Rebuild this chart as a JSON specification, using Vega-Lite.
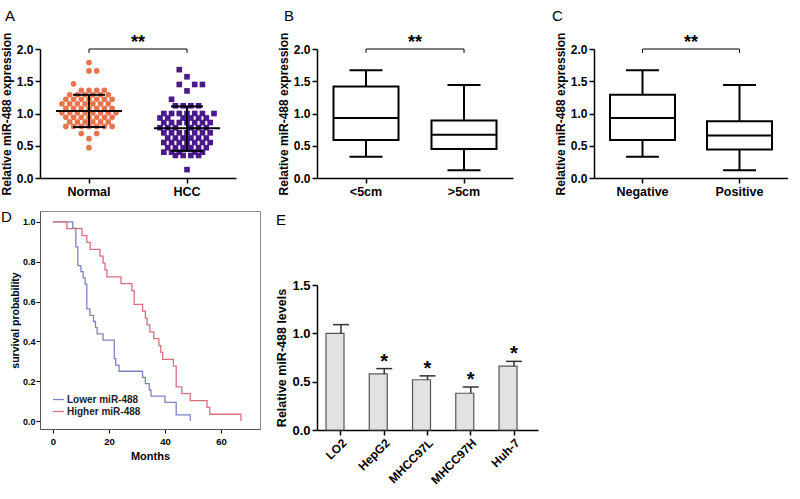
{
"$schema": "https://vega.github.io/schema/vega-lite/v6.json",
"padding": {"left": 0, "top": 9, "right": 0, "bottom": 0},
"background": "white",
"config": {
  "font": "Liberation Sans",
  "view": {"stroke": null},
  "axis": {"grid": false, "labelOverlap": false, "domainColor": "#000", "tickColor": "#000", "labelColor": "#000", "titleColor": "#000", "labelFont": "Liberation Sans", "titleFont": "Liberation Sans"},
  "title": {"font": "Liberation Sans", "fontWeight": "normal", "fontSize": 15, "anchor": "start", "frame": "group", "color": "#000"}
},
"datasets": {
  "ptsA": [
    {"group":"Normal","value":1.79,"col":0},{"group":"Normal","value":1.66,"col":0},{"group":"Normal","value":1.66,"col":2},{"group":"Normal","value":1.46,"col":-4},
    {"group":"Normal","value":1.36,"col":-2},{"group":"Normal","value":1.36,"col":0},{"group":"Normal","value":1.36,"col":2},{"group":"Normal","value":1.36,"col":4},
    {"group":"Normal","value":1.29,"col":-5},{"group":"Normal","value":1.29,"col":-3},{"group":"Normal","value":1.29,"col":-1},{"group":"Normal","value":1.29,"col":1},{"group":"Normal","value":1.29,"col":3},{"group":"Normal","value":1.29,"col":5},
    {"group":"Normal","value":1.22,"col":-6},{"group":"Normal","value":1.22,"col":-4},{"group":"Normal","value":1.22,"col":-2},{"group":"Normal","value":1.22,"col":0},{"group":"Normal","value":1.22,"col":2},{"group":"Normal","value":1.22,"col":4},{"group":"Normal","value":1.22,"col":6},
    {"group":"Normal","value":1.15,"col":-7},{"group":"Normal","value":1.15,"col":-5},{"group":"Normal","value":1.15,"col":-3},{"group":"Normal","value":1.15,"col":-1},{"group":"Normal","value":1.15,"col":1},{"group":"Normal","value":1.15,"col":3},{"group":"Normal","value":1.15,"col":5},
    {"group":"Normal","value":1.08,"col":-6},{"group":"Normal","value":1.08,"col":-4},{"group":"Normal","value":1.08,"col":-2},{"group":"Normal","value":1.08,"col":0},{"group":"Normal","value":1.08,"col":2},{"group":"Normal","value":1.08,"col":4},{"group":"Normal","value":1.08,"col":6},
    {"group":"Normal","value":1.01,"col":-7},{"group":"Normal","value":1.01,"col":-5},{"group":"Normal","value":1.01,"col":-3},{"group":"Normal","value":1.01,"col":-1},{"group":"Normal","value":1.01,"col":1},{"group":"Normal","value":1.01,"col":3},{"group":"Normal","value":1.01,"col":5},{"group":"Normal","value":1.01,"col":7},
    {"group":"Normal","value":0.94,"col":-6},{"group":"Normal","value":0.94,"col":-4},{"group":"Normal","value":0.94,"col":-2},{"group":"Normal","value":0.94,"col":0},{"group":"Normal","value":0.94,"col":2},{"group":"Normal","value":0.94,"col":4},{"group":"Normal","value":0.94,"col":6},
    {"group":"Normal","value":0.87,"col":-5},{"group":"Normal","value":0.87,"col":-3},{"group":"Normal","value":0.87,"col":-1},{"group":"Normal","value":0.87,"col":1},{"group":"Normal","value":0.87,"col":3},{"group":"Normal","value":0.87,"col":5},
    {"group":"Normal","value":0.80,"col":-6},{"group":"Normal","value":0.80,"col":-4},{"group":"Normal","value":0.80,"col":-2},{"group":"Normal","value":0.80,"col":0},{"group":"Normal","value":0.80,"col":2},{"group":"Normal","value":0.80,"col":4},{"group":"Normal","value":0.80,"col":6},
    {"group":"Normal","value":0.69,"col":-2},{"group":"Normal","value":0.69,"col":2},{"group":"Normal","value":0.61,"col":0},{"group":"Normal","value":0.47,"col":0},
    {"group":"HCC","value":1.68,"col":-2},{"group":"HCC","value":1.57,"col":0},{"group":"HCC","value":1.45,"col":-2},{"group":"HCC","value":1.45,"col":2},{"group":"HCC","value":1.45,"col":4},{"group":"HCC","value":1.35,"col":0},{"group":"HCC","value":1.22,"col":-4},
    {"group":"HCC","value":1.12,"col":-3},{"group":"HCC","value":1.12,"col":-1},{"group":"HCC","value":1.12,"col":1},{"group":"HCC","value":1.12,"col":3},
    {"group":"HCC","value":1.0,"col":-6},{"group":"HCC","value":1.0,"col":-4},{"group":"HCC","value":1.0,"col":-2},{"group":"HCC","value":1.0,"col":0},{"group":"HCC","value":1.0,"col":2},{"group":"HCC","value":1.0,"col":4},{"group":"HCC","value":1.0,"col":7},
    {"group":"HCC","value":0.93,"col":-7},{"group":"HCC","value":0.93,"col":-5},{"group":"HCC","value":0.93,"col":-1},{"group":"HCC","value":0.93,"col":1},{"group":"HCC","value":0.93,"col":3},{"group":"HCC","value":0.93,"col":5},
    {"group":"HCC","value":0.86,"col":-6},{"group":"HCC","value":0.86,"col":-4},{"group":"HCC","value":0.86,"col":-2},{"group":"HCC","value":0.86,"col":0},{"group":"HCC","value":0.86,"col":2},{"group":"HCC","value":0.86,"col":4},{"group":"HCC","value":0.86,"col":6},
    {"group":"HCC","value":0.78,"col":-7},{"group":"HCC","value":0.78,"col":-5},{"group":"HCC","value":0.78,"col":-3},{"group":"HCC","value":0.78,"col":1},{"group":"HCC","value":0.78,"col":3},{"group":"HCC","value":0.78,"col":5},
    {"group":"HCC","value":0.70,"col":-6},{"group":"HCC","value":0.70,"col":-4},{"group":"HCC","value":0.70,"col":-2},{"group":"HCC","value":0.70,"col":0},{"group":"HCC","value":0.70,"col":2},{"group":"HCC","value":0.70,"col":4},{"group":"HCC","value":0.70,"col":6},
    {"group":"HCC","value":0.62,"col":-5},{"group":"HCC","value":0.62,"col":-3},{"group":"HCC","value":0.62,"col":-1},{"group":"HCC","value":0.62,"col":1},{"group":"HCC","value":0.62,"col":3},{"group":"HCC","value":0.62,"col":5},
    {"group":"HCC","value":0.55,"col":-6},{"group":"HCC","value":0.55,"col":-4},{"group":"HCC","value":0.55,"col":-2},{"group":"HCC","value":0.55,"col":0},{"group":"HCC","value":0.55,"col":2},{"group":"HCC","value":0.55,"col":4},{"group":"HCC","value":0.55,"col":6},
    {"group":"HCC","value":0.47,"col":-5},{"group":"HCC","value":0.47,"col":-3},{"group":"HCC","value":0.47,"col":-1},{"group":"HCC","value":0.47,"col":1},{"group":"HCC","value":0.47,"col":3},{"group":"HCC","value":0.47,"col":5},
    {"group":"HCC","value":0.40,"col":-6},{"group":"HCC","value":0.40,"col":-4},{"group":"HCC","value":0.40,"col":-2},{"group":"HCC","value":0.40,"col":2},{"group":"HCC","value":0.40,"col":4},
    {"group":"HCC","value":0.35,"col":-3},{"group":"HCC","value":0.35,"col":-1},{"group":"HCC","value":0.35,"col":1},{"group":"HCC","value":0.35,"col":3},
    {"group":"HCC","value":0.13,"col":0}
  ],
  "sumA": [
    {"group":"Normal","mean":1.04,"lo":0.79,"hi":1.29},
    {"group":"HCC","mean":0.77,"lo":0.42,"hi":1.11}
  ],
  "sigA": [{"a":"Normal","b":"HCC","y":2.0,"ylow":1.94,"label":"**"}],
  "boxB": [
    {"g":"<5cm","min":0.33,"q1":0.59,"med":0.93,"q3":1.42,"max":1.67},
    {"g":">5cm","min":0.12,"q1":0.45,"med":0.67,"q3":0.89,"max":1.44}
  ],
  "sigB": [{"a":"<5cm","b":">5cm","y":2.0,"ylow":1.94,"label":"**"}],
  "boxC": [
    {"g":"Negative","min":0.33,"q1":0.59,"med":0.93,"q3":1.29,"max":1.67},
    {"g":"Positive","min":0.12,"q1":0.44,"med":0.66,"q3":0.88,"max":1.44}
  ],
  "sigC": [{"a":"Negative","b":"Positive","y":2.0,"ylow":1.94,"label":"**"}],
  "km": [
    {"grp":"Lower miR-488","t":0,"s":1.0},{"grp":"Lower miR-488","t":7.1,"s":0.969},{"grp":"Lower miR-488","t":8.2,"s":0.875},{"grp":"Lower miR-488","t":8.9,"s":0.781},{"grp":"Lower miR-488","t":10.0,"s":0.75},{"grp":"Lower miR-488","t":10.8,"s":0.719},{"grp":"Lower miR-488","t":11.5,"s":0.688},{"grp":"Lower miR-488","t":12.1,"s":0.563},{"grp":"Lower miR-488","t":13.2,"s":0.531},{"grp":"Lower miR-488","t":14.5,"s":0.5},{"grp":"Lower miR-488","t":15.2,"s":0.469},{"grp":"Lower miR-488","t":15.8,"s":0.438},{"grp":"Lower miR-488","t":17.9,"s":0.406},{"grp":"Lower miR-488","t":21.9,"s":0.313},{"grp":"Lower miR-488","t":22.4,"s":0.281},{"grp":"Lower miR-488","t":23.6,"s":0.25},{"grp":"Lower miR-488","t":32.0,"s":0.219},{"grp":"Lower miR-488","t":33.0,"s":0.188},{"grp":"Lower miR-488","t":34.4,"s":0.156},{"grp":"Lower miR-488","t":35.0,"s":0.125},{"grp":"Lower miR-488","t":40.0,"s":0.094},{"grp":"Lower miR-488","t":44.0,"s":0.031},{"grp":"Lower miR-488","t":49.0,"s":0.0},
    {"grp":"Higher miR-488","t":0,"s":1.0},{"grp":"Higher miR-488","t":5.0,"s":0.966},{"grp":"Higher miR-488","t":10.4,"s":0.931},{"grp":"Higher miR-488","t":12.1,"s":0.897},{"grp":"Higher miR-488","t":13.3,"s":0.862},{"grp":"Higher miR-488","t":16.8,"s":0.828},{"grp":"Higher miR-488","t":17.9,"s":0.793},{"grp":"Higher miR-488","t":18.6,"s":0.759},{"grp":"Higher miR-488","t":19.3,"s":0.724},{"grp":"Higher miR-488","t":24.3,"s":0.69},{"grp":"Higher miR-488","t":28.2,"s":0.655},{"grp":"Higher miR-488","t":29.0,"s":0.586},{"grp":"Higher miR-488","t":32.0,"s":0.552},{"grp":"Higher miR-488","t":33.0,"s":0.517},{"grp":"Higher miR-488","t":33.6,"s":0.483},{"grp":"Higher miR-488","t":34.6,"s":0.448},{"grp":"Higher miR-488","t":36.0,"s":0.414},{"grp":"Higher miR-488","t":37.8,"s":0.379},{"grp":"Higher miR-488","t":38.5,"s":0.345},{"grp":"Higher miR-488","t":39.2,"s":0.31},{"grp":"Higher miR-488","t":43.0,"s":0.276},{"grp":"Higher miR-488","t":44.0,"s":0.172},{"grp":"Higher miR-488","t":46.0,"s":0.138},{"grp":"Higher miR-488","t":49.0,"s":0.103},{"grp":"Higher miR-488","t":55.0,"s":0.069},{"grp":"Higher miR-488","t":56.0,"s":0.034},{"grp":"Higher miR-488","t":67.1,"s":0.0}
  ],
  "cells": [
    {"cell":"LO2","value":1.0,"upper":1.09,"sig":""},
    {"cell":"HepG2","value":0.58,"upper":0.635,"sig":"*"},
    {"cell":"MHCC97L","value":0.52,"upper":0.56,"sig":"*"},
    {"cell":"MHCC97H","value":0.38,"upper":0.445,"sig":"*"},
    {"cell":"Huh-7","value":0.66,"upper":0.71,"sig":"*"}
  ]
},
"spacing": 14,
"resolve": {"scale": {"color": "independent", "shape": "independent"}},
"hconcat": [
  {
    "bounds": "flush",
    "spacing": 33,
    "resolve": {"scale": {"color": "independent", "shape": "independent"}},
    "vconcat": [
      {
        "width": 196, "height": 129,
        "title": {"text": "A", "dx": -35, "offset": 8},
        "encoding": {
          "x": {"field": "group", "type": "nominal", "scale": {"domain": ["Normal", "HCC"], "paddingInner": 0, "paddingOuter": 0},
                "axis": {"title": null, "labelFontSize": 12.5, "labelFontWeight": "bold", "labelAngle": 0, "domainWidth": 1.5, "tickWidth": 1.5, "tickSize": 5, "labelPadding": 2}},
          "y": {"field": "value", "type": "quantitative", "scale": {"domain": [0, 2], "nice": false},
                "axis": {"title": "Relative miR-488 expression", "titleFontSize": 12, "titleFontWeight": "bold", "values": [0, 0.5, 1, 1.5, 2], "tickCount": 5, "labelOverlap": false, "format": ".1f", "labelFontSize": 12, "labelFontWeight": "bold", "domainWidth": 1.5, "tickWidth": 1.5, "tickSize": 5, "labelPadding": 2, "titlePadding": 3}}
        },
        "layer": [
          {"data": {"name": "ptsA"}, "mark": {"type": "point", "filled": true, "opacity": 1, "size": 32, "strokeWidth": 0},
           "encoding": {
             "xOffset": {"field": "col", "type": "quantitative", "scale": {"domain": [-12.7, 12.7]}},
             "color": {"field": "group", "type": "nominal", "scale": {"domain": ["Normal", "HCC"], "range": ["#e8734c", "#4a1a8c"]}, "legend": null},
             "shape": {"field": "group", "type": "nominal", "scale": {"domain": ["Normal", "HCC"], "range": ["circle", "square"]}, "legend": null}
           }},
          {"data": {"name": "sumA"}, "mark": {"type": "rule", "color": "#000", "strokeWidth": 2},
           "encoding": {"y": {"field": "lo", "type": "quantitative"}, "y2": {"field": "hi"}}},
          {"data": {"name": "sumA"}, "mark": {"type": "tick", "color": "#000", "thickness": 2, "size": 66, "opacity": 1},
           "encoding": {"y": {"field": "mean", "type": "quantitative"}}},
          {"data": {"name": "sumA"}, "mark": {"type": "tick", "color": "#000", "thickness": 2, "size": 32, "opacity": 1},
           "encoding": {"y": {"field": "lo", "type": "quantitative"}}},
          {"data": {"name": "sumA"}, "mark": {"type": "tick", "color": "#000", "thickness": 2, "size": 32, "opacity": 1},
           "encoding": {"y": {"field": "hi", "type": "quantitative"}}},
          {"data": {"name": "sigA"}, "mark": {"type": "rule", "color": "#000", "strokeWidth": 1},
           "encoding": {"x": {"field": "a", "type": "nominal"}, "x2": {"field": "b"}, "y": {"field": "y", "type": "quantitative"}}},
          {"data": {"name": "sigA"}, "mark": {"type": "rule", "color": "#000", "strokeWidth": 1},
           "encoding": {"x": {"field": "a", "type": "nominal"}, "y": {"field": "ylow", "type": "quantitative"}, "y2": {"field": "y"}}},
          {"data": {"name": "sigA"}, "mark": {"type": "rule", "color": "#000", "strokeWidth": 1},
           "encoding": {"x": {"field": "b", "type": "nominal"}, "y": {"field": "ylow", "type": "quantitative"}, "y2": {"field": "y"}}},
          {"data": {"name": "sigA"}, "mark": {"type": "text", "fontSize": 18, "fontWeight": "bold", "baseline": "alphabetic", "dy": -1, "color": "#000"},
           "encoding": {"x": {"field": "a", "type": "nominal", "bandPosition": 1}, "y": {"field": "y", "type": "quantitative"}, "text": {"field": "label"}}}
        ]
      },
      {
        "width": 220, "height": 218,
        "title": {"text": "D", "dx": -39, "offset": -14},
        "view": {"stroke": "#8a8a8a", "strokeWidth": 1},
        "data": {"name": "km"},
        "mark": {"type": "line", "interpolate": "step-after", "strokeWidth": 1.3},
        "encoding": {
          "x": {"field": "t", "type": "quantitative", "scale": {"domain": [-4.6, 73.9], "nice": false, "zero": false},
                "axis": {"title": "Months", "values": [0, 20, 40, 60], "titleFontSize": 11, "titleFontWeight": "bold", "labelFontSize": 9.5, "labelFontWeight": "bold", "domainColor": "#555", "tickSize": 4, "labelPadding": 3, "titlePadding": 5}},
          "y": {"field": "s", "type": "quantitative", "scale": {"domain": [-0.04, 1.055], "nice": false, "zero": false},
                "axis": {"title": "survival probability", "values": [0, 0.2, 0.4, 0.6, 0.8, 1.0], "format": ".1f", "titleFontSize": 10.5, "titleFontWeight": "bold", "labelFontSize": 9, "labelFontWeight": "bold", "domainColor": "#555", "tickSize": 4, "labelPadding": 1, "titlePadding": 2}},
          "color": {"field": "grp", "type": "nominal", "scale": {"domain": ["Lower miR-488", "Higher miR-488"], "range": ["#7c84c2", "#d8707e"]},
                    "legend": {"title": null, "orient": "bottom-left", "offset": 12, "padding": 0, "symbolType": "stroke", "symbolSize": 120, "symbolStrokeWidth": 1.3, "labelFontSize": 10, "labelFontWeight": "bold", "labelColor": "#222", "rowPadding": 0, "labelOffset": 2}}
        }
      }
    ]
  },
  {
    "bounds": "flush",
    "spacing": 107,
    "vconcat": [
      {
        "width": 196, "height": 129,
        "title": {"text": "B", "dx": -33, "offset": 8},
        "data": {"name": "boxB"},
        "encoding": {
          "x": {"field": "g", "type": "nominal", "scale": {"domain": ["<5cm", ">5cm"], "paddingInner": 0, "paddingOuter": 0},
                "axis": {"title": null, "labelFontSize": 12.5, "labelFontWeight": "bold", "labelAngle": 0, "domainWidth": 1.5, "tickWidth": 1.5, "tickSize": 5, "labelPadding": 2}},
          "y": {"field": "min", "type": "quantitative", "scale": {"domain": [0, 2], "nice": false},
                "axis": {"title": "Relative miR-488 expression", "titleFontSize": 12, "titleFontWeight": "bold", "values": [0, 0.5, 1, 1.5, 2], "tickCount": 5, "labelOverlap": false, "format": ".1f", "labelFontSize": 12, "labelFontWeight": "bold", "domainWidth": 1.5, "tickWidth": 1.5, "tickSize": 5, "labelPadding": 2, "titlePadding": 3}}
        },
        "layer": [
          {"mark": {"type": "rule", "color": "#000", "strokeWidth": 2}, "encoding": {"y2": {"field": "max"}}},
          {"mark": {"type": "tick", "color": "#000", "thickness": 2, "size": 33, "opacity": 1}},
          {"mark": {"type": "tick", "color": "#000", "thickness": 2, "size": 33, "opacity": 1}, "encoding": {"y": {"field": "max", "type": "quantitative"}}},
          {"mark": {"type": "bar", "fill": "#fff", "stroke": "#000", "strokeWidth": 2, "size": 65}, "encoding": {"y": {"field": "q1", "type": "quantitative"}, "y2": {"field": "q3"}}},
          {"mark": {"type": "tick", "color": "#000", "thickness": 2, "size": 65, "opacity": 1}, "encoding": {"y": {"field": "med", "type": "quantitative"}}},
          {"data": {"name": "sigB"}, "mark": {"type": "rule", "color": "#000", "strokeWidth": 1},
           "encoding": {"x": {"field": "a", "type": "nominal"}, "x2": {"field": "b"}, "y": {"field": "y", "type": "quantitative"}}},
          {"data": {"name": "sigB"}, "mark": {"type": "rule", "color": "#000", "strokeWidth": 1},
           "encoding": {"x": {"field": "a", "type": "nominal"}, "y": {"field": "ylow", "type": "quantitative"}, "y2": {"field": "y"}}},
          {"data": {"name": "sigB"}, "mark": {"type": "rule", "color": "#000", "strokeWidth": 1},
           "encoding": {"x": {"field": "b", "type": "nominal"}, "y": {"field": "ylow", "type": "quantitative"}, "y2": {"field": "y"}}},
          {"data": {"name": "sigB"}, "mark": {"type": "text", "fontSize": 18, "fontWeight": "bold", "baseline": "alphabetic", "dy": -1, "color": "#000"},
           "encoding": {"x": {"field": "a", "type": "nominal", "bandPosition": 1}, "y": {"field": "y", "type": "quantitative"}, "text": {"field": "label"}}}
        ]
      },
      {
        "width": 221, "height": 145,
        "title": {"text": "E", "dx": -41, "offset": 51},
        "data": {"name": "cells"},
        "encoding": {
          "x": {"field": "cell", "type": "nominal", "scale": {"domain": ["LO2", "HepG2", "MHCC97L", "MHCC97H", "Huh-7"], "paddingInner": 0.307, "paddingOuter": 0.208},
                "axis": {"title": null, "labelAngle": -45, "labelFontSize": 12, "labelFontWeight": "bold", "domainWidth": 1.5, "tickWidth": 1.5, "tickSize": 5, "labelPadding": 2}},
          "y": {"field": "value", "type": "quantitative", "scale": {"domain": [0, 1.5], "nice": false},
                "axis": {"title": "Relative miR-488 levels", "titleFontSize": 12.5, "titleFontWeight": "bold", "values": [0, 0.5, 1, 1.5], "tickCount": 4, "labelOverlap": false, "format": ".1f", "labelFontSize": 13, "labelFontWeight": "bold", "domainWidth": 1.5, "tickWidth": 1.5, "tickSize": 5, "labelPadding": 2, "titlePadding": 3}}
        },
        "layer": [
          {"mark": {"type": "bar", "fill": "#e2e2e2", "stroke": "#555", "strokeWidth": 1.2}},
          {"mark": {"type": "rule", "color": "#333", "strokeWidth": 1.5}, "encoding": {"y2": {"field": "upper"}}},
          {"mark": {"type": "tick", "color": "#333", "thickness": 1.5, "size": 16, "opacity": 1}, "encoding": {"y": {"field": "upper", "type": "quantitative"}}},
          {"mark": {"type": "text", "fontSize": 20, "fontWeight": "bold", "baseline": "alphabetic", "dy": -1, "color": "#000"},
           "encoding": {"y": {"field": "upper", "type": "quantitative"}, "text": {"field": "sig"}}}
        ]
      }
    ]
  },
  {
    "width": 194, "height": 129,
    "title": {"text": "C", "dx": -42, "offset": 8},
    "data": {"name": "boxC"},
    "encoding": {
      "x": {"field": "g", "type": "nominal", "scale": {"domain": ["Negative", "Positive"], "paddingInner": 0, "paddingOuter": 0},
            "axis": {"title": null, "labelFontSize": 12.5, "labelFontWeight": "bold", "labelAngle": 0, "domainWidth": 1.5, "tickWidth": 1.5, "tickSize": 5, "labelPadding": 2}},
      "y": {"field": "min", "type": "quantitative", "scale": {"domain": [0, 2], "nice": false},
            "axis": {"title": "Relative miR-488 expression", "titleFontSize": 12, "titleFontWeight": "bold", "values": [0, 0.5, 1, 1.5, 2], "tickCount": 5, "labelOverlap": false, "format": ".1f", "labelFontSize": 12, "labelFontWeight": "bold", "domainWidth": 1.5, "tickWidth": 1.5, "tickSize": 5, "labelPadding": 2, "titlePadding": 3}}
    },
    "layer": [
      {"mark": {"type": "rule", "color": "#000", "strokeWidth": 2}, "encoding": {"y2": {"field": "max"}}},
      {"mark": {"type": "tick", "color": "#000", "thickness": 2, "size": 33, "opacity": 1}},
      {"mark": {"type": "tick", "color": "#000", "thickness": 2, "size": 33, "opacity": 1}, "encoding": {"y": {"field": "max", "type": "quantitative"}}},
      {"mark": {"type": "bar", "fill": "#fff", "stroke": "#000", "strokeWidth": 2, "size": 65}, "encoding": {"y": {"field": "q1", "type": "quantitative"}, "y2": {"field": "q3"}}},
      {"mark": {"type": "tick", "color": "#000", "thickness": 2, "size": 65, "opacity": 1}, "encoding": {"y": {"field": "med", "type": "quantitative"}}},
      {"data": {"name": "sigC"}, "mark": {"type": "rule", "color": "#000", "strokeWidth": 1},
       "encoding": {"x": {"field": "a", "type": "nominal"}, "x2": {"field": "b"}, "y": {"field": "y", "type": "quantitative"}}},
      {"data": {"name": "sigC"}, "mark": {"type": "rule", "color": "#000", "strokeWidth": 1},
       "encoding": {"x": {"field": "a", "type": "nominal"}, "y": {"field": "ylow", "type": "quantitative"}, "y2": {"field": "y"}}},
      {"data": {"name": "sigC"}, "mark": {"type": "rule", "color": "#000", "strokeWidth": 1},
       "encoding": {"x": {"field": "b", "type": "nominal"}, "y": {"field": "ylow", "type": "quantitative"}, "y2": {"field": "y"}}},
      {"data": {"name": "sigC"}, "mark": {"type": "text", "fontSize": 18, "fontWeight": "bold", "baseline": "alphabetic", "dy": -1, "color": "#000"},
       "encoding": {"x": {"field": "a", "type": "nominal", "bandPosition": 1}, "y": {"field": "y", "type": "quantitative"}, "text": {"field": "label"}}}
    ]
  }
]
}
